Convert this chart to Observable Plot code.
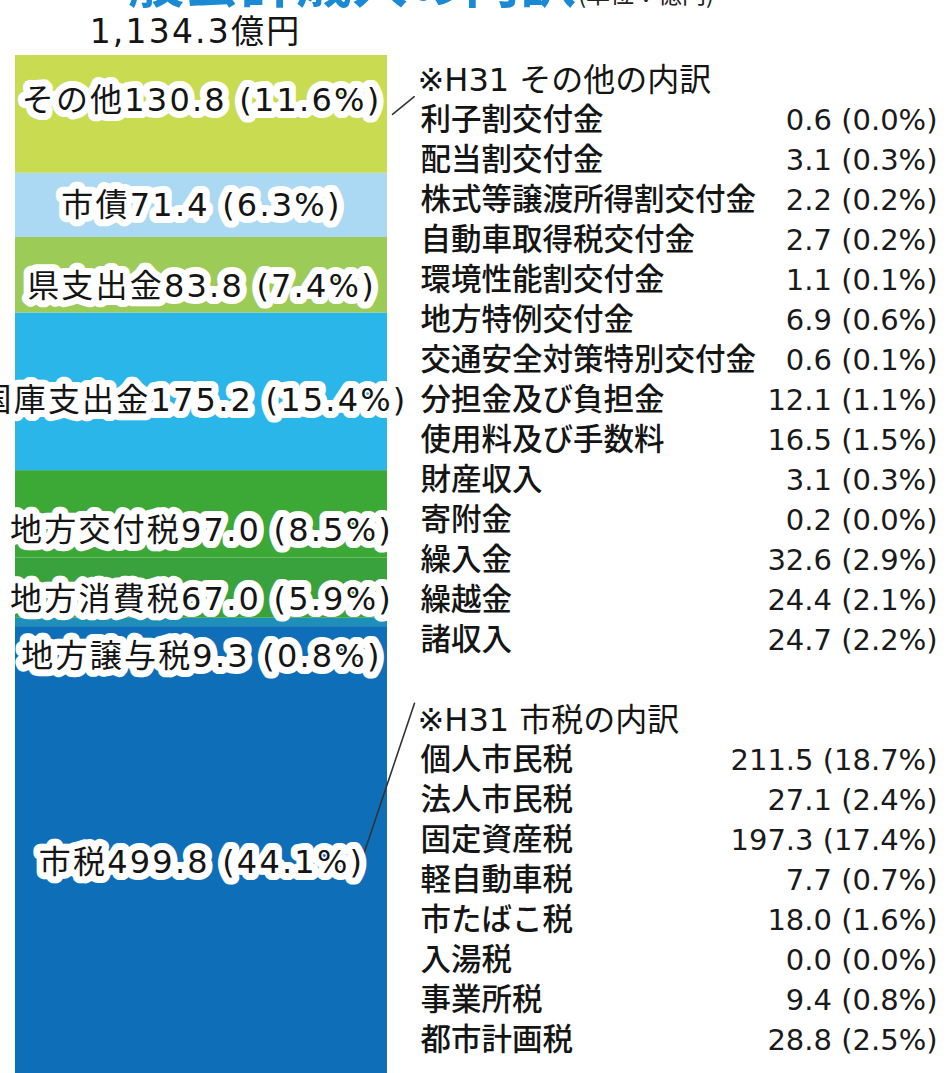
<!DOCTYPE html>
<html><head><meta charset="utf-8">
<script src="https://cdn.jsdelivr.net/npm/d3@7"></script>
<script src="https://cdn.jsdelivr.net/npm/@observablehq/plot@0.6"></script>
<style>
html,body{margin:0;padding:0;background:#fff;overflow:hidden;}
#wrap{position:relative;width:947px;height:1073px;overflow:hidden;background:#fff;}
#wrap svg{position:absolute;left:0;top:0;}
.title{position:absolute;left:72px;top:-50px;font:bold 56px/1 "Noto Sans CJK JP",sans-serif;color:#1a8ad4;white-space:nowrap;z-index:5;}
.unit{position:absolute;left:578px;top:-19px;font:24px/1 "Noto Sans CJK JP",sans-serif;color:#222;white-space:nowrap;z-index:5;}
</style></head><body>
<div id="wrap"><div class="title">一般会計歳入の内訳</div><div class="unit">(単位：億円)</div></div>
<script>
// 歳入の内訳（下から上へ積み上げ順）
const categories = ["市税","地方譲与税","地方消費税","地方交付税","国庫支出金","県支出金","市債","その他"];
const values = [499.8, 9.3, 67.0, 97.0, 175.2, 83.8, 71.4, 130.8];
const shares = [44.1, 0.8, 5.9, 8.5, 15.4, 7.4, 6.3, 11.6];

const headings = ["※H31 その他の内訳", "※H31 市税の内訳"];
const otherNames = ["利子割交付金","配当割交付金","株式等譲渡所得割交付金","自動車取得税交付金","環境性能割交付金","地方特例交付金","交通安全対策特別交付金","分担金及び負担金","使用料及び手数料","財産収入","寄附金","繰入金","繰越金","諸収入"];
const otherValues = [0.6, 3.1, 2.2, 2.7, 1.1, 6.9, 0.6, 12.1, 16.5, 3.1, 0.2, 32.6, 24.4, 24.7];
const otherShares = [0.0, 0.3, 0.2, 0.2, 0.1, 0.6, 0.1, 1.1, 1.5, 0.3, 0.0, 2.9, 2.1, 2.2];
const cityTaxNames = ["個人市民税","法人市民税","固定資産税","軽自動車税","市たばこ税","入湯税","事業所税","都市計画税"];
const cityTaxValues = [211.5, 27.1, 197.3, 7.7, 18.0, 0.0, 9.4, 28.8];
const cityTaxShares = [18.7, 2.4, 17.4, 0.7, 1.6, 0.0, 0.8, 2.5];

// styles (kept apart from data)
const palette = ["#0f6eb8","#1e8fb8","#3aa23c","#3ca836","#2bb6ea","#9dcb58","#abd9f3","#c9db50"];
const labelNudge = [11, 34, 12, 16, 9, 12, 0, -14];
const labelShift = [0, 0, 0, 0, -8, 0, 0, 0];
const barFont = "'DejaVu Sans','Noto Sans CJK JP',sans-serif";
const jpFont = "'Noto Sans CJK JP',sans-serif";

const fmt = (v, p) => `${v.toFixed(1)} (${p.toFixed(1)}%)`;
const total = d3.sum(values);
const data = categories.map((c, i) => ({cat: "H31", name: c, value: values[i], share: shares[i]}));
const ends = d3.cumsum(values);
data.forEach((d, i) => { d.mid = ends[i] - d.value / 2; });

const leaders = [
  {cat: "H31", v: data[7].mid, dx: 191, dy: 0, len: 28, rot: 51},
  {cat: "H31", v: data[0].mid, dx: 154, dy: 27, len: 185, rot: 18.6}
];

const plotA = Plot.plot({
  width: 947, height: 1076,
  marginTop: 55, marginBottom: 0, marginLeft: 15, marginRight: 560,
  x: {domain: ["H31"], padding: 0, axis: null},
  y: {domain: [0, total], axis: null},
  color: {domain: categories, range: palette},
  marks: [
    Plot.barY(data, {x: "cat", y: "value", fill: "name"}),
    ...leaders.map(l => Plot.vector([l], {x: "cat", y: "v", length: l.len, rotate: l.rot, anchor: "start", r: 0, dx: l.dx, dy: l.dy, stroke: "#333", strokeWidth: 1.6})),
    ...data.map((d, i) => Plot.text([d], {
      x: "cat", y: "mid", text: d => d.name + fmt(d.value, d.share),
      dx: labelShift[i], dy: labelNudge[i], fontSize: 32, fontFamily: barFont, fill: "#151515",
      stroke: "white", strokeWidth: 14, strokeLinejoin: "round"
    })),
    Plot.text([{cat: "H31", v: total}], {
      x: "cat", y: "v", text: d => d3.format(",.1f")(d.v) + "億円",
      dy: -23, dx: -6, fontSize: 33, fontFamily: barFont, fill: "#151515"
    })
  ]
});
plotA.style.letterSpacing = "2.2px";

const headRows = [{row: 0, col: "名称", text: headings[0]}, {row: 16, col: "名称", text: headings[1]}];
const listRows = otherNames.map((n, i) => ({row: 1 + i, name: n, label: fmt(otherValues[i], otherShares[i])}))
  .concat(cityTaxNames.map((n, i) => ({row: 17 + i, name: n, label: fmt(cityTaxValues[i], cityTaxShares[i])})));

const plotB = Plot.plot({
  width: 947, height: 1073,
  style: {background: "transparent"},
  x: {type: "point", domain: ["名称", "金額"], range: [420, 937], padding: 0, axis: null},
  y: {domain: [0, 24], range: [80, 1040], axis: null},
  marks: [
    Plot.text(headRows, {x: "col", y: "row", text: "text", textAnchor: "start", dx: -3, fontSize: 32, fontFamily: barFont, fill: "#151515"}),
    Plot.text(listRows, {x: () => "名称", y: "row", text: "name", textAnchor: "start", fontSize: 30.5, fontWeight: 500, fontFamily: jpFont, fill: "#151515"}),
    Plot.text(listRows, {x: () => "金額", y: "row", text: "label", textAnchor: "end", fontSize: 29, fontFamily: "'DejaVu Sans',sans-serif", fill: "#1a1a1a"})
  ]
});

const wrap = document.getElementById("wrap");
wrap.insertBefore(plotB, wrap.firstChild);
wrap.insertBefore(plotA, wrap.firstChild);
</script>
</body></html>
